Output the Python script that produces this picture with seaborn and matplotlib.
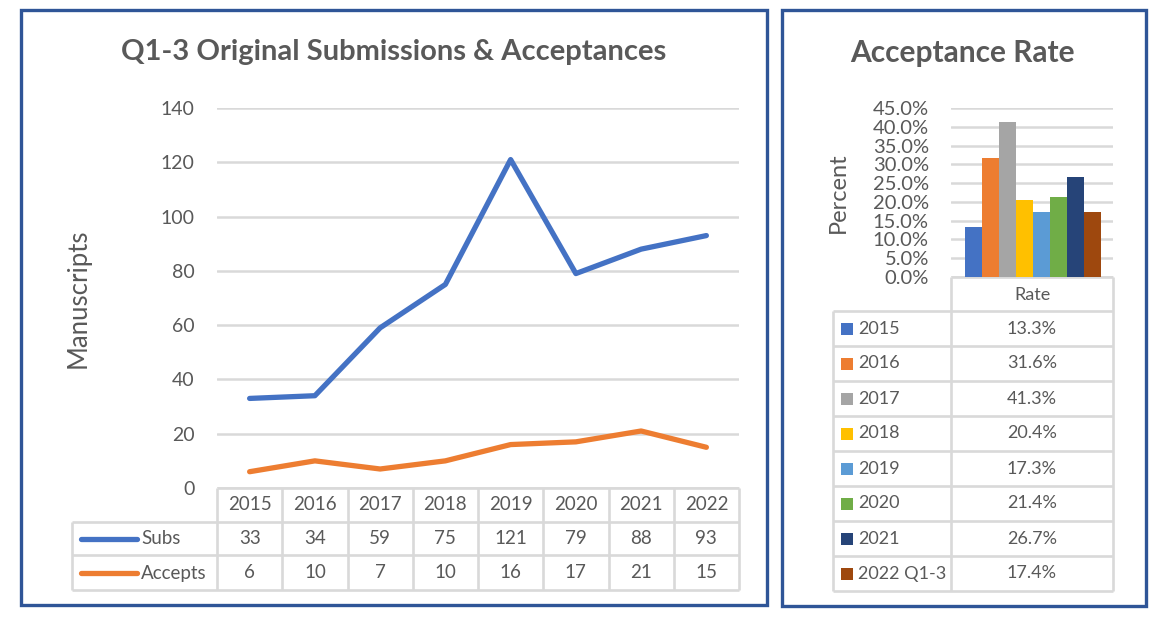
import numpy as np
import pandas as pd
import seaborn as sns
import matplotlib.pyplot as plt
from matplotlib.patches import Rectangle
from matplotlib.ticker import FuncFormatter

# Data
years = ["2015", "2016", "2017", "2018", "2019", "2020", "2021", "2022"]
subs = [33, 34, 59, 75, 121, 79, 88, 93]
accepts = [6, 10, 7, 10, 16, 17, 21, 15]
series_names = ["Subs", "Accepts"]
series_colors = ["#4472C4", "#ED7D31"]

rate_labels = ["2015", "2016", "2017", "2018", "2019", "2020", "2021", "2022 Q1-3"]
rates = [13.3, 31.6, 41.3, 20.4, 17.3, 21.4, 26.7, 17.4]
rate_colors = ["#4472C4", "#ED7D31", "#A5A5A5", "#FFC000",
               "#5B9BD5", "#70AD47", "#264478", "#9E480E"]

TXT = "#595959"
GRID = "#D9D9D9"
FRAME = "#2F5597"
W, H = 1158, 619

sns.set_theme(style="white")
plt.rcParams["font.family"] = ["Lato", "DejaVu Sans"]

fig = plt.figure(figsize=(W / 100, H / 100), dpi=100)


def px_axes(x0, y0, x1, y1):
    # axes placed by pixel box (top-left origin)
    return fig.add_axes([x0 / W, 1 - y1 / H, (x1 - x0) / W, (y1 - y0) / H])


# overlay for frames, titles and tables
ov = px_axes(0, 0, W, H)
ov.set_xlim(0, W)
ov.set_ylim(H, 0)
ov.axis("off")

for (x0, y0, x1, y1) in [(21, 10, 767, 605), (782, 10, 1146, 606)]:
    ov.add_patch(Rectangle((x0, y0), x1 - x0, y1 - y0, fill=False,
                           edgecolor=FRAME, linewidth=2.4))

ov.text(394, 52, "Q1-3 Original Submissions & Acceptances", ha="center",
        va="center", fontsize=21, fontweight="bold", color=TXT)
ov.text(962, 53, "Acceptance Rate", ha="center", va="center",
        fontsize=21.5, fontweight="bold", color=TXT)

# ---------------- left: line chart ----------------
df = pd.DataFrame({
    "Year": years * 2,
    "Count": subs + accepts,
    "Series": [series_names[0]] * len(years) + [series_names[1]] * len(years),
})

ax = px_axes(217, 108, 739, 488)
ax.set_facecolor("none")
sns.lineplot(data=df, x="Year", y="Count", hue="Series",
             palette=series_colors, linewidth=3.8, legend=False, ax=ax,
             solid_capstyle="round")
ax.set_xlim(-0.5, len(years) - 0.5)
ax.set_ylim(0, 140)
ax.set_yticks(np.arange(0, 141, 20))
ax.set_xticks([])
ax.yaxis.grid(True, color=GRID, linewidth=1.8)
ax.set_axisbelow(True)
ax.tick_params(axis="y", length=0, pad=16, labelsize=14, labelcolor=TXT)
ax.set_xlabel("")
ax.set_ylabel("")
sns.despine(ax=ax, left=True, bottom=True)
ov.text(78, 298, "Manuscripts", rotation=90, ha="center", va="center",
        fontsize=18.5, color=TXT)

# data table below the line chart
col_w = (739 - 217) / len(years)
edges = [217 + col_w * i for i in range(len(years) + 1)]
tkw = dict(color=GRID, linewidth=1.9, solid_capstyle="butt")
ov.plot([217, 739], [488, 488], **tkw)
for y in [522, 555, 590]:
    ov.plot([72, 739], [y, y], **tkw)
for x in edges:
    ov.plot([x, x], [488, 590], **tkw)
ov.plot([72, 72], [522, 590], **tkw)

for i, yr in enumerate(years):
    cx = (edges[i] + edges[i + 1]) / 2
    ov.text(cx, 505, yr, ha="center", va="center", fontsize=13.5, color=TXT)
    ov.text(cx, 539, str(subs[i]), ha="center", va="center", fontsize=13.5, color=TXT)
    ov.text(cx, 573, str(accepts[i]), ha="center", va="center", fontsize=13.5, color=TXT)

for name, col, ry in zip(series_names, series_colors, [539, 573]):
    ov.plot([81, 137], [ry, ry], color=col, linewidth=3.8, solid_capstyle="round")
    ov.text(141, ry, name, ha="left", va="center", fontsize=13.5, color=TXT)

# ---------------- right: bar chart ----------------
axb = px_axes(951, 108, 1113, 277)
axb.set_facecolor("none")
sns.barplot(x=rate_labels, y=rates, hue=rate_labels, palette=rate_colors,
            width=1, saturation=1, linewidth=0, legend=False, ax=axb)
axb.set_xlim(-1.32, len(rates) - 0.5 + 0.71)
axb.set_ylim(0, 45)
axb.set_yticks(np.arange(0, 46, 5))
axb.yaxis.set_major_formatter(FuncFormatter(lambda v, p: f"{v:.1f}%"))
axb.set_xticks([])
axb.yaxis.grid(True, color=GRID, linewidth=1.8)
axb.set_axisbelow(True)
axb.tick_params(axis="y", length=0, pad=16, labelsize=14.5, labelcolor=TXT)
axb.set_xlabel("")
axb.set_ylabel("")
sns.despine(ax=axb, left=True, bottom=True)
ov.text(838, 193, "Percent", rotation=90, ha="center", va="center",
        fontsize=17, color=TXT)

# data table below the bar chart
ov.plot([951, 1113], [277, 277], **tkw)
ov.plot([951, 951], [277, 591], **tkw)
ov.plot([1113, 1113], [277, 591], **tkw)
ov.plot([833, 833], [311, 591], **tkw)
ov.text(1032, 295, "Rate", ha="center", va="center", fontsize=13, color=TXT)
row_h = (591 - 311) / len(rates)
for i in range(len(rates) + 1):
    ov.plot([833, 1113], [311 + row_h * i] * 2, **tkw)
for i, (lab, val, col) in enumerate(zip(rate_labels, rates, rate_colors)):
    cy = 311 + row_h * (i + 0.5)
    ov.add_patch(Rectangle((841, cy - 6), 12, 12, color=col, linewidth=0))
    ov.text(858, cy, lab, ha="left", va="center", fontsize=13, color=TXT)
    ov.text(1032, cy, f"{val:.1f}%", ha="center", va="center", fontsize=13, color=TXT)

fig.savefig("out.png", dpi=100)
